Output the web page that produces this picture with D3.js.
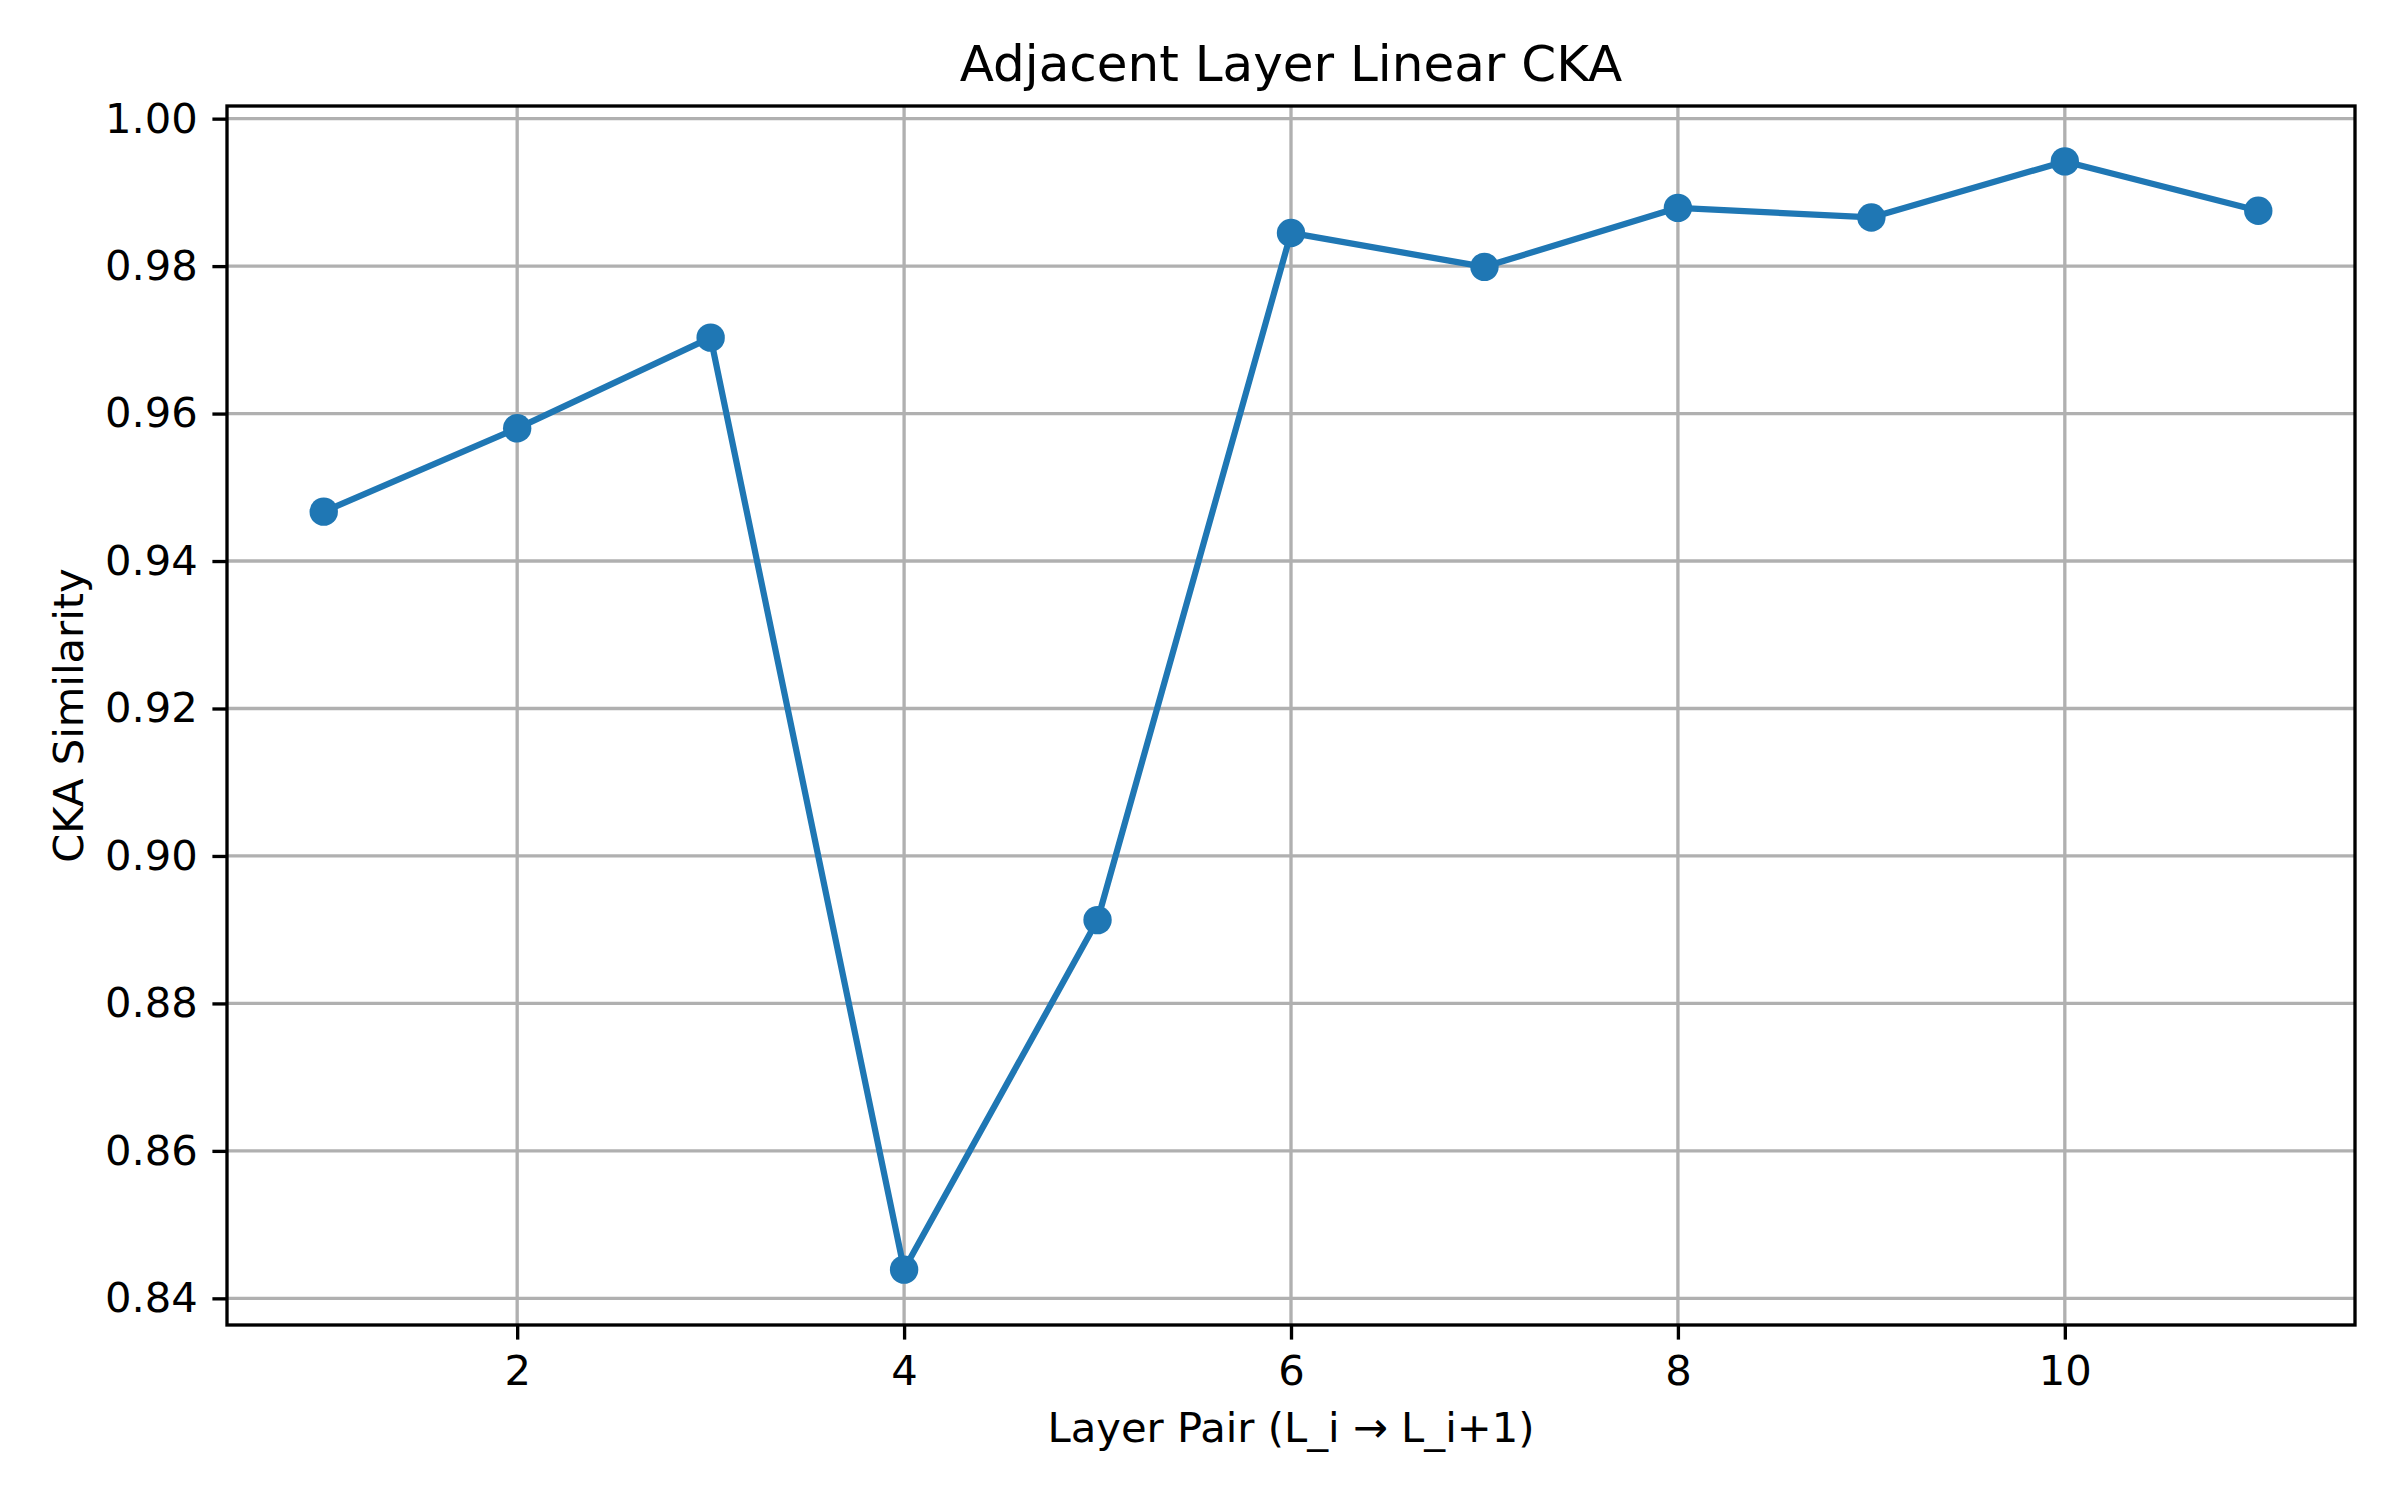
<!DOCTYPE html>
<html>
<head>
<meta charset="utf-8">
<script src="https://cdn.jsdelivr.net/npm/d3@7"></script>
<style>
  body { margin: 0; background: #fff; }
  svg { display: block; font-family: "DejaVu Sans", sans-serif; }
</style>
</head>
<body>
<svg id="chart" width="2400" height="1500"></svg>
<script>
// layer pair index and adjacent CKA values
var layerPairs = [1, 2, 3, 4, 5, 6, 7, 8, 9, 10, 11];
var ckaValues = [0.9467, 0.9580, 0.9703, 0.8439, 0.8913, 0.9845, 0.9799, 0.9879, 0.9866, 0.9942, 0.9875];
var xTicks = [2, 4, 6, 8, 10];
var yTicks = [0.84, 0.86, 0.88, 0.90, 0.92, 0.94, 0.96, 0.98, 1.00];

var svg = d3.select('#chart');

var margin = { top: 106, right: 45, bottom: 175, left: 227 },
  width = 2400 - margin.left - margin.right,
  height = 1500 - margin.top - margin.bottom;

var g = svg.append('g').attr('transform', `translate(${margin.left},${margin.top})`);

// matplotlib style 5% margins
var xExt = d3.extent(layerPairs), yExt = d3.extent(ckaValues);
var xPad = (xExt[1] - xExt[0]) * 0.05, yPad = (yExt[1] - yExt[0]) * 0.05;

var x = d3.scaleLinear().domain([xExt[0] - xPad, xExt[1] + xPad]).range([0, width]);
var y = d3.scaleLinear().domain([yExt[0] - yPad, yExt[1] + yPad]).range([height, 0]);

var tickLen = 14.6, fontSize = 41.7;

// grid
g.append('g').selectAll('line').data(xTicks).enter().append('line')
  .attr('x1', d => x(d)).attr('x2', d => x(d))
  .attr('y1', 0).attr('y2', height)
  .attr('stroke', '#b0b0b0').attr('stroke-width', 3.33);

g.append('g').selectAll('line').data(yTicks).enter().append('line')
  .attr('x1', 0).attr('x2', width)
  .attr('y1', d => y(d)).attr('y2', d => y(d))
  .attr('stroke', '#b0b0b0').attr('stroke-width', 3.33);

// line + markers
var line = d3.line()
  .x((d, i) => x(layerPairs[i]))
  .y(d => y(d));

g.append('path')
  .datum(ckaValues)
  .attr('fill', 'none')
  .attr('stroke', '#1f77b4')
  .attr('stroke-width', 6.25)
  .attr('stroke-linejoin', 'round')
  .attr('stroke-linecap', 'square')
  .attr('d', line);

g.append('g').selectAll('circle').data(ckaValues).enter().append('circle')
  .attr('cx', (d, i) => x(layerPairs[i]))
  .attr('cy', d => y(d))
  .attr('r', 14.2)
  .attr('fill', '#1f77b4');

// axes
var xAxis = g.append('g')
  .attr('transform', `translate(0,${height})`)
  .call(d3.axisBottom(x).tickValues(xTicks).tickSize(tickLen).tickPadding(14.6).tickFormat(d3.format('d')));

var yAxis = g.append('g')
  .call(d3.axisLeft(y).tickValues(yTicks).tickSize(tickLen).tickPadding(14.6).tickFormat(d3.format('.2f')));

[xAxis, yAxis].forEach(function(ax) {
  ax.select('.domain').remove();
  ax.selectAll('.tick line').attr('stroke', '#000').attr('stroke-width', 3.33);
  ax.selectAll('.tick text')
    .attr('fill', '#000')
    .style('font-family', '"DejaVu Sans", sans-serif')
    .style('font-size', fontSize + 'px');
});

xAxis.selectAll('.tick text').attr('dy', null).attr('y', 0)
  .attr('transform', `translate(0,${1385 - margin.top - height})`);

// frame
g.append('rect')
  .attr('x', 0).attr('y', 0)
  .attr('width', width).attr('height', height)
  .attr('fill', 'none')
  .attr('stroke', '#000')
  .attr('stroke-width', 3.33)
  .attr('stroke-linecap', 'square');

// titles
svg.append('text')
  .attr('x', margin.left + width / 2)
  .attr('y', 81)
  .attr('text-anchor', 'middle')
  .style('font-size', '50px')
  .text('Adjacent Layer Linear CKA');

svg.append('text')
  .attr('x', margin.left + width / 2)
  .attr('y', 1442)
  .attr('text-anchor', 'middle')
  .style('font-size', fontSize + 'px')
  .text('Layer Pair (L_i \u2192 L_i+1)');

svg.append('text')
  .attr('transform', `translate(83,${margin.top + height / 2}) rotate(-90)`)
  .attr('text-anchor', 'middle')
  .style('font-size', fontSize + 'px')
  .text('CKA Similarity');
</script>
</body>
</html>
